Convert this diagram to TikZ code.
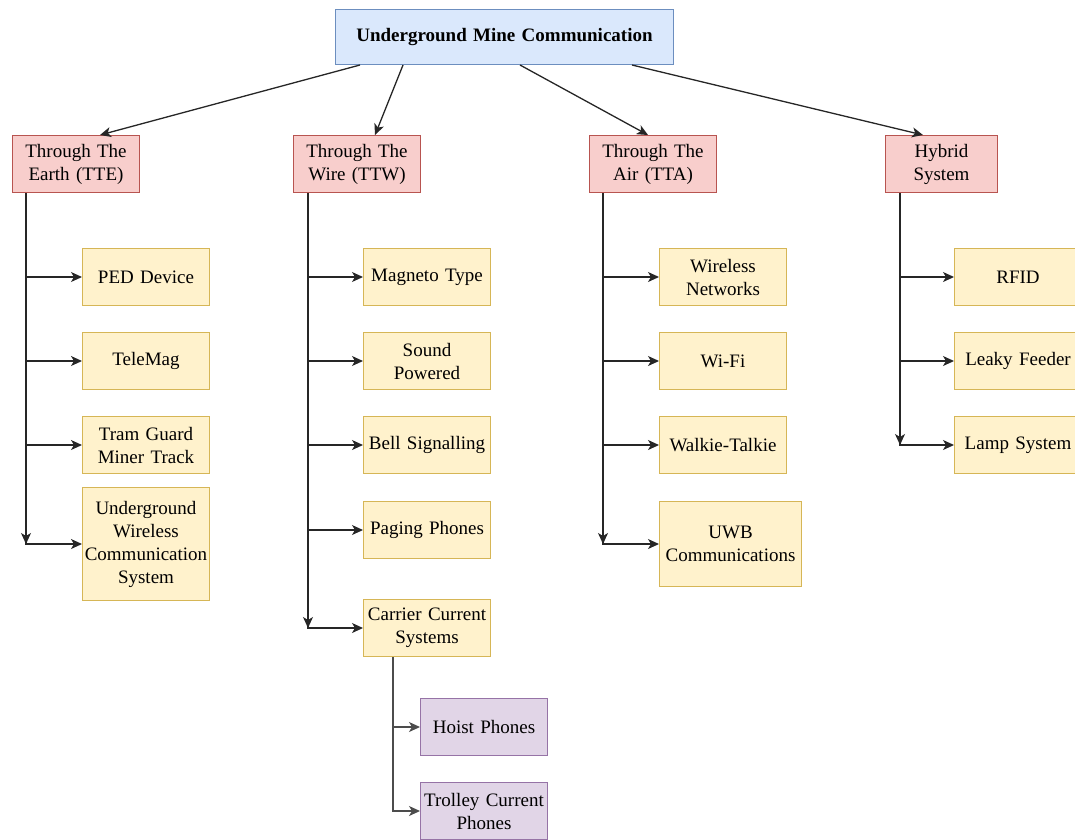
\documentclass[tikz,border=0pt]{standalone}
\usepackage{fontspec}
\setmainfont{Liberation Serif}
\usetikzlibrary{arrows.meta,positioning}
\definecolor{rootfill}{HTML}{DAE8FC}
\definecolor{rootline}{HTML}{6C8EBF}
\definecolor{catfill}{HTML}{F8CECC}
\definecolor{catline}{HTML}{B85450}
\definecolor{leaffill}{HTML}{FFF2CC}
\definecolor{leafline}{HTML}{D6B656}
\definecolor{subfill}{HTML}{E1D5E7}
\definecolor{subline}{HTML}{9673A6}

\begin{document}
\begin{tikzpicture}[x=1pt,y=-1pt,
  box/.style={draw,line width=1pt,anchor=north west,align=center,inner sep=0pt,
    text width=127pt,minimum height=57pt,font=\fontsize{19}{23}\selectfont},
  root/.style={box,fill=rootfill,draw=rootline,text width=338pt,minimum height=55pt,
    font=\fontsize{19}{23}\selectfont\bfseries},
  cat/.style={box,fill=catfill,draw=catline},
  leaf/.style={box,fill=leaffill,draw=leafline},
  sub/.style={box,fill=subfill,draw=subline},
  link/.style={draw=black!85,line width=1.3pt,-{Stealth[length=11pt,width=10pt,inset=3pt]}}]

\clip (0,0) rectangle (1075,839);

\node [root] (root) at (335,9) {Underground Mine Communication};

\node [cat] (tte) at (12,135) {Through The\\Earth (TTE)};
\node [cat] (ttw) at (293,135) {Through The\\Wire (TTW)};
\node [cat] (tta) at (589,135) {Through The\\Air (TTA)};
\node [cat,text width=112pt] (hyb) at (885,135) {Hybrid\\System};

\draw [link] ([xshift=25pt]root.south west) -- ([xshift=88pt]tte.north west);
\draw [link] ([xshift=68pt]root.south west) -- ([xshift=82pt]ttw.north west);
\draw [link] ([xshift=185pt]root.south west) -- ([xshift=59pt]tta.north west);
\draw [link] ([xshift=297pt]root.south west) -- ([xshift=38pt]hyb.north west);

% through the earth
\begin{scope}
\def\ephr{1/248/57/{PED Device},2/332/57/{TeleMag},3/416/57/{Tram Guard\\Miner Track},
  4/487/113/{Underground\\Wireless\\Communication\\System}}
\foreach \i / \y / \h / \element in \ephr {
  \node [leaf,minimum height=\h pt] (e\i) at (82,\y) {\element};
  \draw [link] ([xshift=14pt]tte.south west) |- (e\i.west);
}
\draw [link] ([xshift=14pt]tte.south west) -- ([xshift=14pt]tte.south west |- e4.west);
\end{scope}

% through the wire
\begin{scope}
\def\wphr{1/248/{Magneto Type},2/332/{Sound\\Powered},3/416/{Bell Signalling},
  4/501/{Paging Phones},5/599/{Carrier Current\\Systems}}
\foreach \i / \y / \element in \wphr {
  \node [leaf] (w\i) at (363,\y) {\element};
  \draw [link] ([xshift=15pt]ttw.south west) |- (w\i.west);
}
\draw [link] ([xshift=15pt]ttw.south west) -- ([xshift=15pt]ttw.south west |- w5.west);

\def\sphr{1/698/{Hoist Phones},2/782/{Trolley Current\\Phones}}
\foreach \i / \y / \element in \sphr {
  \node [sub] (s\i) at (420,\y) {\element};
  \draw [link,draw=black!70] ([xshift=30pt]w5.south west) |- (s\i.west);
}
\end{scope}

% through the air
\begin{scope}
\def\aphr{1/248/57/127/{Wireless\\Networks},2/332/57/127/{Wi-Fi},3/416/57/127/{Walkie-Talkie},
  4/501/85/142/{UWB\\Communications}}
\foreach \i / \y / \h / \w / \element in \aphr {
  \node [leaf,minimum height=\h pt,text width=\w pt] (a\i) at (659,\y) {\element};
  \draw [link] ([xshift=14pt]tta.south west) |- (a\i.west);
}
\draw [link] ([xshift=14pt]tta.south west) -- ([xshift=14pt]tta.south west |- a4.west);
\end{scope}

% hybrid
\begin{scope}
\def\hphr{1/248/{RFID},2/332/{Leaky Feeder},3/416/{Lamp System}}
\foreach \i / \y / \element in \hphr {
  \node [leaf] (h\i) at (954,\y) {\element};
  \draw [link] ([xshift=15pt]hyb.south west) |- (h\i.west);
}
\draw [link] ([xshift=15pt]hyb.south west) -- ([xshift=15pt]hyb.south west |- h3.west);
\end{scope}

\end{tikzpicture}
\end{document}
